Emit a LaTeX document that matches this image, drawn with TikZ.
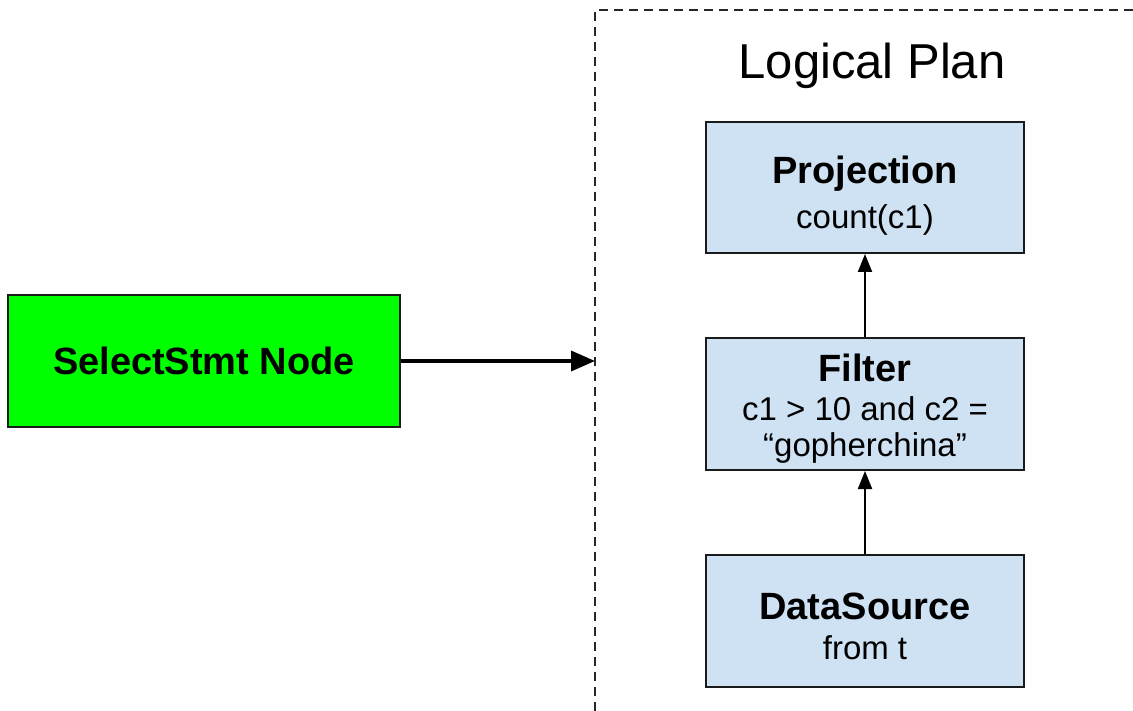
\documentclass[tikz,border=0pt]{standalone}
\usepackage{fontspec}
\setmainfont{Liberation Sans}
\usetikzlibrary{arrows.meta}
\definecolor{planblue}{HTML}{CFE2F3}
\definecolor{stmtgreen}{HTML}{00FF00}
\definecolor{edge}{HTML}{1A1A1A}
\newcommand{\headfont}{\fontsize{38}{44}\selectfont\bfseries}
\newcommand{\bodyfont}{\fontsize{33}{37}\selectfont}
\begin{document}
\begin{tikzpicture}[x=1pt,y=-1pt,
  opbox/.style={draw=edge, line width=2pt, fill=planblue, minimum width=318pt,
    minimum height=131pt, align=center, inner sep=0pt, font=\bodyfont},
  stmtbox/.style={draw=edge, line width=2pt, fill=stmtgreen, minimum width=392pt,
    minimum height=132pt, align=center, inner sep=0pt},
  flow/.style={draw=black, line width=2pt, -{Triangle[length=18pt,width=14pt]}},
  mainflow/.style={draw=black, line width=3.5pt, -{Triangle[length=24pt,width=20pt]}},
  planframe/.style={draw=black!85, line width=1.8pt, dash pattern=on 9pt off 6pt}]
  \useasboundingbox (0,0) rectangle (1133,711);

  % dashed frame of the logical plan, running off the page
  \coordinate (frameBL) at (595,711);
  \coordinate (frameTL) at (595,10);
  \coordinate (frameTR) at (1133,10);
  \draw[planframe] (frameBL) -- (frameTL) -- (frameTR);
  \node (title) at (872,66) {\fontsize{49}{56}\selectfont Logical Plan};

  % statement node
  \node[stmtbox] (stmt) at (204,361) {\headfont SelectStmt Node};
  \coordinate (planentry) at (595,361);

  % plan operators
  \node[opbox] (proj) at (865,187.5)
    {\rule{0pt}{44pt}\headfont Projection\\[8pt] count(c1)};
  \node[opbox, minimum height=132pt] (filter) at (865,404)
    {\rule{0pt}{36pt}\headfont Filter\\[2pt] c1 > 10 and c2 =\\[-1pt] “gopherchina”};
  \node[opbox, minimum height=132pt] (source) at (865,621)
    {\rule{0pt}{37pt}\headfont DataSource\\[3pt] from t};

  % connectors
  \draw[mainflow] (stmt.east) -- (planentry);
  \draw[flow] (filter.north) -- (proj.south);
  \draw[flow] (source.north) -- (filter.south);
\end{tikzpicture}
\end{document}
